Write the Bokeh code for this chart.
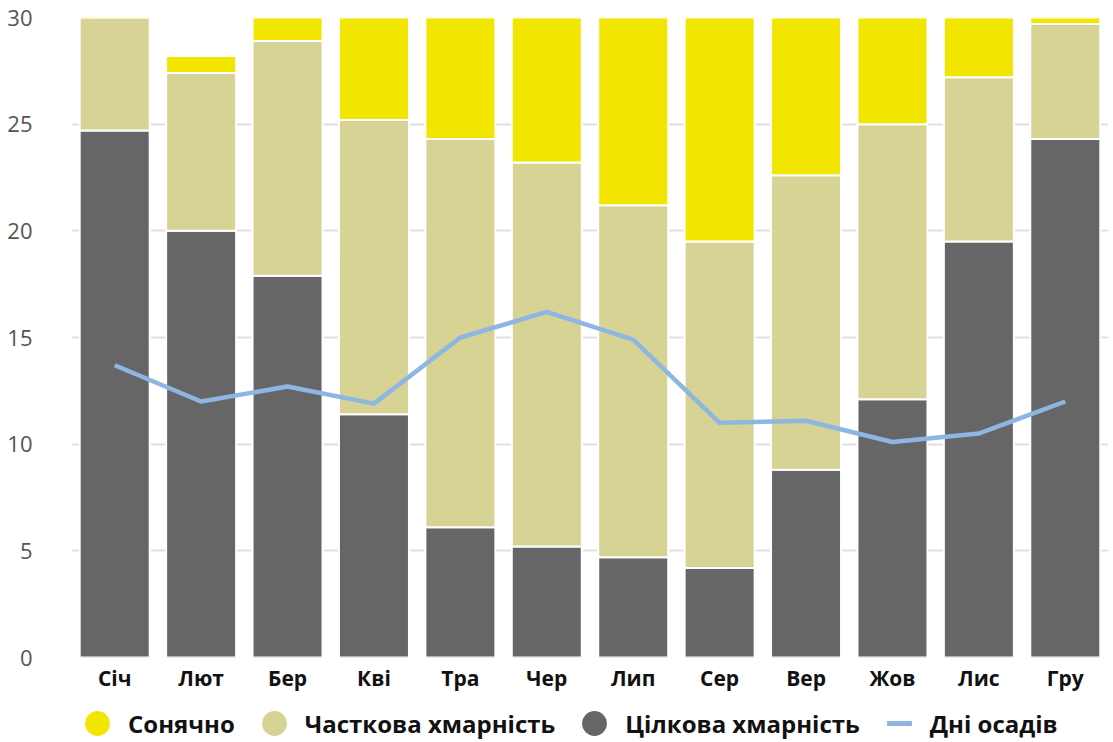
from bokeh.plotting import figure
from bokeh.layouts import column
from bokeh.models import ColumnDataSource, Legend, LegendItem, Range1d, FixedTicker
from bokeh.embed import file_html
from bokeh.resources import INLINE

months = ["Січ", "Лют", "Бер", "Кві", "Тра", "Чер", "Лип", "Сер", "Вер", "Жов", "Лис", "Гру"]
overcast = [24.7, 20.0, 17.9, 11.4, 6.1, 5.2, 4.7, 4.2, 8.8, 12.1, 19.5, 24.3]
partly = [6.0, 7.4, 11.0, 13.8, 18.2, 18.0, 16.5, 15.3, 13.8, 12.9, 7.7, 5.4]
sunny = [0.3, 0.8, 2.1, 4.8, 6.7, 6.8, 9.8, 11.5, 7.4, 6.0, 2.8, 1.3]
precip = [13.7, 12.0, 12.7, 11.9, 15.0, 16.2, 14.9, 11.0, 11.1, 10.1, 10.5, 12.0]
y_ticks = [0, 5, 10, 15, 20, 25, 30]

labels = ["Сонячно", "Часткова хмарність", "Цілкова хмарність", "Дні осадів"]
c_sunny = "#f2e600"
c_partly = "#d6d394"
c_over = "#666666"
c_precip = "#8db6e3"

src = ColumnDataSource(dict(month=months, overcast=overcast, partly=partly,
                            sunny=sunny, precip=precip))

p = figure(x_range=months, y_range=Range1d(0, 30), width=1113, height=700,
           output_backend="svg", toolbar_location=None,
           min_border_left=71, min_border_right=5, min_border_top=17,
           min_border_bottom=43)
p.outline_line_color = None

p.vbar_stack(["overcast", "partly", "sunny"], x="month", width=0.81,
             color=[c_over, c_partly, c_sunny], line_color="white",
             line_width=2, source=src)
p.line(x="month", y="precip", line_width=4.5, line_color=c_precip, source=src)

p.xgrid.grid_line_color = None
p.ygrid.grid_line_color = "#e0e0e0"
p.ygrid.grid_line_width = 2
p.yaxis.ticker = FixedTicker(ticks=y_ticks)
p.yaxis.axis_line_color = None
p.yaxis.major_tick_line_color = None
p.yaxis.minor_tick_line_color = None
p.yaxis.major_label_standoff = 33
p.yaxis.major_label_text_font = "Open Sans"
p.yaxis.major_label_text_font_size = "22px"
p.yaxis.major_label_text_color = "#555555"

p.xaxis.axis_line_color = None
p.xaxis.major_tick_line_color = None
p.xaxis.major_label_standoff = 0
p.xaxis.major_label_text_font = "Open Sans"
p.xaxis.major_label_text_font_style = "bold"
p.xaxis.major_label_text_font_size = "21px"
p.xaxis.major_label_text_color = "#111111"

# legend strip below the chart (its frame is aligned with the chart's frame)
lg = figure(width=1113, height=42, output_backend="svg", toolbar_location=None,
            x_range=Range1d(0, 1), y_range=Range1d(0, 1),
            x_axis_location=None, y_axis_location=None,
            min_border_left=0, min_border_right=0, min_border_top=0,
            min_border_bottom=0)
lg.outline_line_color = None
lg.grid.grid_line_color = None
r1 = lg.scatter(x=[0.5], y=[-5], marker="circle", fill_color=c_sunny, line_color=None)
r2 = lg.scatter(x=[0.5], y=[-5], marker="circle", fill_color=c_partly, line_color=None)
r3 = lg.scatter(x=[0.5], y=[-5], marker="circle", fill_color=c_over, line_color=None)
r4 = lg.scatter(x=[0.5], y=[-5], marker="dash", line_color=c_precip, line_width=5)

legend = Legend(items=[LegendItem(label=l, renderers=[r]) for l, r in zip(labels, [r1, r2, r3, r4])],
                orientation="horizontal", location=(-5, -12),
                glyph_width=62, glyph_height=62, label_standoff=0, spacing=8,
                padding=0, margin=0, border_line_color=None,
                background_fill_alpha=0,
                label_text_font="Open Sans", label_text_font_style="bold",
                label_text_font_size="24px", label_text_color="#111111")
lg.add_layout(legend, "center")

layout = column(p, lg, spacing=0)
open("out.html", "w").write(file_html(layout, INLINE))
